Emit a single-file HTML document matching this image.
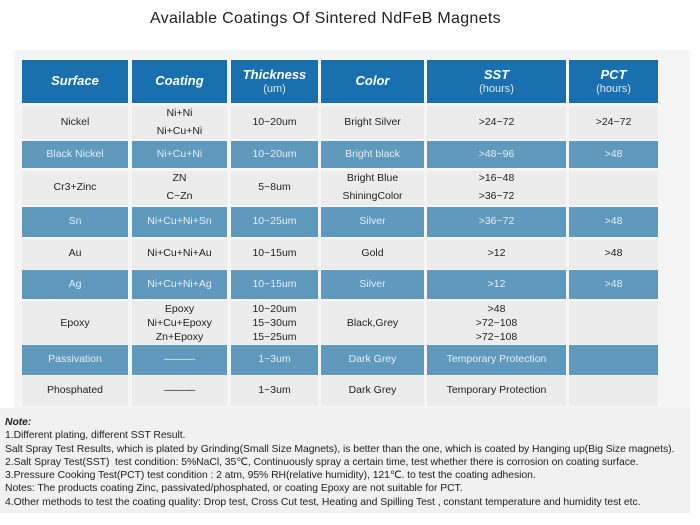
<!DOCTYPE html>
<html><head><meta charset="utf-8"><style>
body{margin:0;width:700px;height:525px;background:#fff;position:relative;overflow:hidden;font-family:"Liberation Sans",sans-serif}
.c{position:absolute;display:flex;align-items:center;justify-content:center;text-align:center;font-size:10.5px;color:#222;line-height:1.1}
.h{background:#1a6fae;color:#fff;font-weight:bold;font-style:italic;font-size:13px}
.h small{font-weight:normal;font-style:normal;font-size:11px;color:#dfe9f3;display:block}
.b{background:#5f9abd;color:#e4eef5}
.l{background:#ececec}
.g{display:block;height:6px}
.t{position:absolute;left:150px;top:10px;font-size:16px;color:#222;letter-spacing:0.3px}
.notes{position:absolute;left:0;top:408px;width:690px;height:105px;background:#f1f1f1}
.n{position:absolute;left:5px;top:416px;font-size:10.4px;color:#222;line-height:13.3px;white-space:nowrap;letter-spacing:-0.05px}
</style></head><body>
<div class="t">Available Coatings Of Sintered NdFeB Magnets</div>
<div style="position:absolute;left:14px;top:50px;width:676px;height:360px;background:#f5f5f5"></div>
<div class="notes"></div>
<div id="g"></div>
<div class="n"><b><i>Note:</i></b><br>1.Different plating, different SST Result.<br>Salt Spray Test Results, which is plated by Grinding(Small Size Magnets), is better than the one, which is coated by Hanging up(Big Size magnets).<br>2.Salt Spray Test(SST)&nbsp; test condition: 5%NaCl, 35℃, Continuously spray a certain time, test whether there is corrosion on coating surface.<br>3.Pressure Cooking Test(PCT) test condition : 2 atm, 95% RH(relative humidity), 121℃. to test the coating adhesion.<br>Notes: The products coating Zinc, passivated/phosphated, or coating Epoxy are not suitable for PCT.<br>4.Other methods to test the coating quality: Drop test, Cross Cut test, Heating and Spilling Test , constant temperature and humidity test etc.</div>
<script>
var X=[[22,128],[132,227],[231,318],[321,424],[427,566],[569,658]];
var R=[[60,103,'h'],[106,139,'l'],[141,168,'b'],[171,205,'l'],[207,237,'b'],[239,269,'l'],[270,299,'b'],[301,344,'l'],[345,375,'b'],[376,406,'l']];
var G="<span class='g'></span>";
var D=[
["Surface","Coating","Thickness<small>(um)</small>","Color","SST<small>(hours)</small>","PCT<small>(hours)</small>"],
["Nickel","Ni+Ni"+G+"Ni+Cu+Ni","10~20um","Bright Silver","&gt;24~72","&gt;24~72"],
["Black Nickel","Ni+Cu+Ni","10~20um","Bright black","&gt;48~96","&gt;48"],
["Cr3+Zinc","ZN"+G+"C~Zn","5~8um","Bright Blue"+G+"ShiningColor","&gt;16~48"+G+"&gt;36~72",""],
["Sn","Ni+Cu+Ni+Sn","10~25um","Silver","&gt;36~72","&gt;48"],
["Au","Ni+Cu+Ni+Au","10~15um","Gold","&gt;12","&gt;48"],
["Ag","Ni+Cu+Ni+Ag","10~15um","Silver","&gt;12","&gt;48"],
["Epoxy","Epoxy<br>Ni+Cu+Epoxy<br>Zn+Epoxy","10~20um<br>15~30um<br>15~25um","Black,Grey","&gt;48<br>&gt;72~108<br>&gt;72~108",""],
["Passivation","———","1~3um","Dark Grey","Temporary Protection",""],
["Phosphated","———","1~3um","Dark Grey","Temporary Protection",""]];
var s='';
R.forEach(function(r,i){X.forEach(function(x,j){
var st='left:'+x[0]+'px;top:'+r[0]+'px;width:'+(x[1]-x[0])+'px;height:'+(r[1]-r[0])+'px;';
if(i==7)st+='line-height:14px;';
s+='<div class="c '+r[2]+'" style="'+st+'"><div>'+D[i][j]+'</div></div>';});});
document.getElementById('g').innerHTML=s;
</script>
</body></html>
